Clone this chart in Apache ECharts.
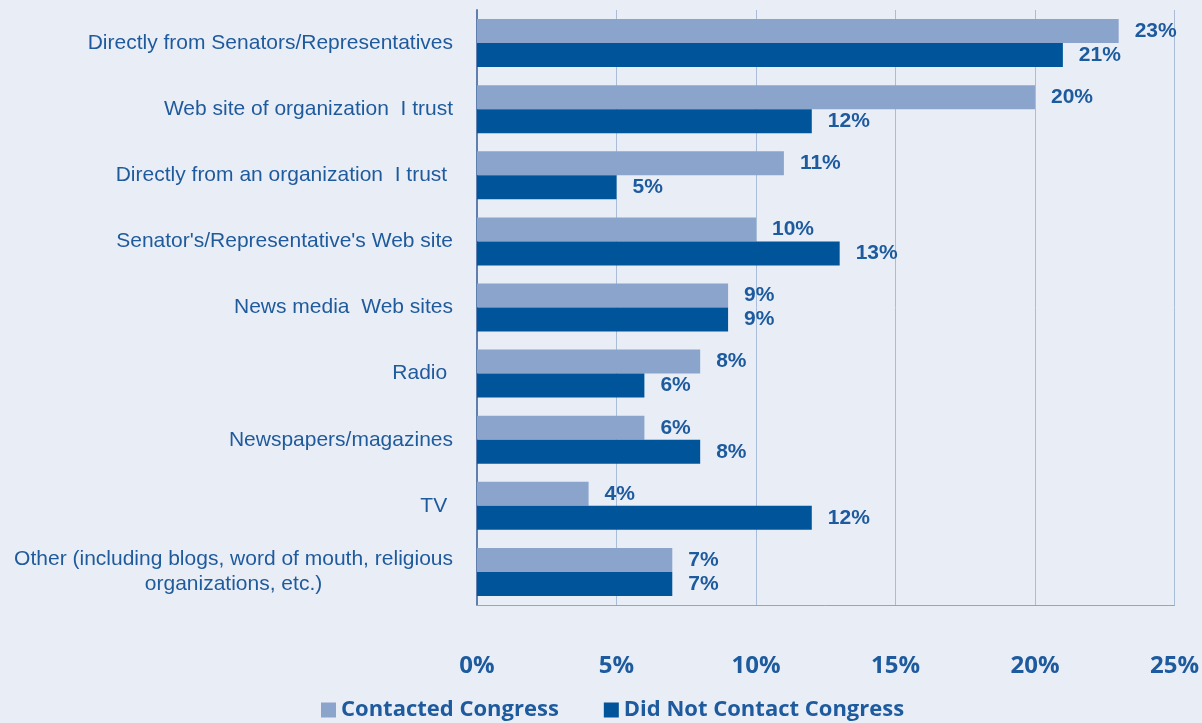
<!DOCTYPE html>
<html>
<head>
<meta charset="utf-8">
<script src="https://cdn.jsdelivr.net/npm/echarts@6/dist/echarts.min.js"></script>
<style>
  html, body { margin: 0; padding: 0; background: #e9eef6; }
  #chart { width: 1202px; height: 723px; }
</style>
</head>
<body>
<div id="chart"></div>
<script>
// 数据
const categories = [
  "Directly from Senators/Representatives",
  "Web site of organization  I trust",
  "Directly from an organization  I trust ",
  "Senator's/Representative's Web site",
  "News media  Web sites",
  "Radio ",
  "Newspapers/magazines",
  "TV ",
  "Other (including blogs, word of mouth, religious\norganizations, etc.)"
];
const contacted = [23, 20, 11, 10, 9, 8, 6, 4, 7];
const notContacted = [21, 12, 5, 13, 9, 6, 8, 12, 7];
const tickLabels = ["0%", "5%", "10%", "15%", "20%", "25%"];

const catFont = "21px 'Liberation Sans'";

// 测量文字宽度，用于两行标签第二行居中
const ctx = document.createElement("canvas").getContext("2d");
ctx.font = catFont;
function textWidth(s) {
  return Math.ceil(ctx.measureText(s).width);
}

const myChart = echarts.init(document.getElementById("chart"));

const labelStyle = {
  show: true,
  position: "right",
  distance: 16,
  formatter: "{c}%",
  color: "#1d5a9e",
  fontFamily: "Liberation Sans",
  fontWeight: "bold",
  fontSize: 21
};

const option = {
  backgroundColor: "#e9eef6",
  animation: false,
  grid: { left: 477, right: 27, top: 10, bottom: 118 },
  legend: {
    bottom: -3,
    left: 316,
    itemWidth: 15,
    itemHeight: 15,
    itemGap: 45,
    icon: "rect",
    textStyle: {
      color: "#1d5a9e",
      fontFamily: "Open Sans",
      fontWeight: "bold",
      fontSize: 22
    },
    data: ["Contacted Congress", "Did Not Contact Congress"]
  },
  xAxis: {
    type: "value",
    min: 0,
    max: 25,
    interval: 5,
    axisLine: { show: true, lineStyle: { color: "#8fa6c8" } },
    axisTick: { show: false },
    splitLine: { lineStyle: { color: "#a9bcd8", width: 1 } },
    axisLabel: {
      margin: 49,
      color: "#1d5a9e",
      fontFamily: "Open Sans",
      fontWeight: "bold",
      fontSize: 24,
      formatter: (v) => tickLabels[v / 5]
    }
  },
  yAxis: {
    type: "category",
    inverse: true,
    data: categories,
    axisLine: { show: true, lineStyle: { color: "#5f7fae", width: 2 } },
    axisTick: { show: false },
    axisLabel: {
      margin: 24,
      color: "#1f5a9c",
      fontFamily: "Liberation Sans",
      fontSize: 21,
      lineHeight: 25,
      align: "right",
      formatter: (v) => {
        if (v.indexOf("\n") < 0) return v;
        const lines = v.split("\n");
        return "{a|" + lines[0] + "}\n{b|" + lines[1] + "}";
      },
      rich: {
        a: { fontSize: 21, lineHeight: 25, color: "#1f5a9c", fontFamily: "Liberation Sans" },
        b: {
          fontSize: 21,
          lineHeight: 25,
          color: "#1f5a9c",
          fontFamily: "Liberation Sans",
          align: "center",
          width: textWidth("Other (including blogs, word of mouth, religious")
        }
      }
    }
  },
  series: [
    {
      name: "Contacted Congress",
      type: "bar",
      barWidth: 24,
      barGap: "0%",
      itemStyle: { color: "#8aa4cc" },
      label: labelStyle,
      data: contacted
    },
    {
      name: "Did Not Contact Congress",
      type: "bar",
      barWidth: 24,
      barGap: "0%",
      itemStyle: { color: "#00559a" },
      label: labelStyle,
      data: notContacted
    }
  ]
};

myChart.setOption(option);
</script>
</body>
</html>
